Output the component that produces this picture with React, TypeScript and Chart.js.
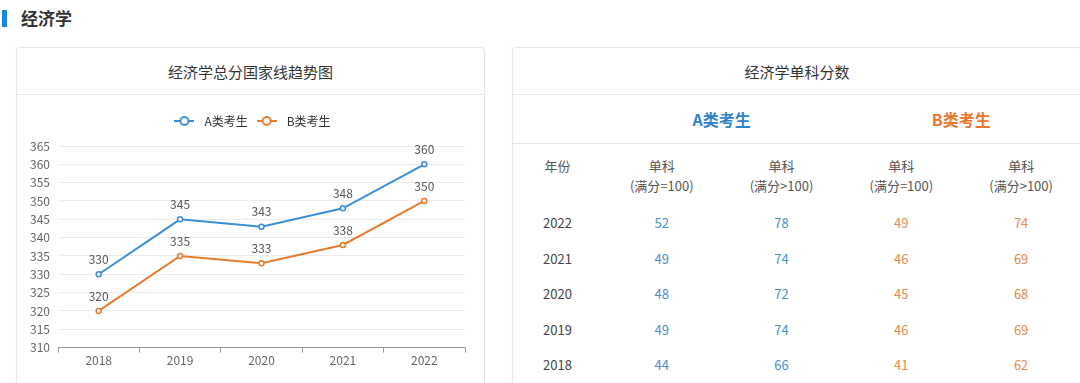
import React, { useEffect, useRef } from 'react';
import { Chart, registerables } from 'chart.js';

Chart.register(...registerables);

// ---- data ----
const years = ['2018', '2019', '2020', '2021', '2022'];
const seriesA = [330, 345, 343, 348, 360];
const seriesB = [320, 335, 333, 338, 350];
const seriesNames = ['A类考生', 'B类考生'];
const yMin = 310;
const yMax = 365;
const yStep = 5;

const tableYears = ['2022', '2021', '2020', '2019', '2018'];
const aEq100 = [52, 49, 48, 49, 44];
const aGt100 = [78, 74, 72, 74, 66];
const bEq100 = [49, 46, 45, 46, 41];
const bGt100 = [74, 69, 68, 69, 62];
const colHead = '单科';
const colSubs = ['(满分=100)', '(满分>100)', '(满分=100)', '(满分>100)'];

// ---- styles ----
const FONT = '"Microsoft YaHei", "Noto Sans CJK SC", "Noto Sans", sans-serif';
const BLUE = '#3a8fd6';
const ORANGE = '#e67c2e';
const BLUE_TXT = '#2f83c9';
const ORANGE_TXT = '#e8772d';
const BLUE_NUM = '#4a8fcc';
const ORANGE_NUM = '#e38a52';
const BORDER = '#e6e6e6';

function makeIcon(color: string): HTMLCanvasElement {
  const c = document.createElement('canvas');
  c.width = 20;
  c.height = 14;
  const g = c.getContext('2d')!;
  g.strokeStyle = color;
  g.lineWidth = 2;
  g.beginPath();
  g.moveTo(0, 7);
  g.lineTo(20, 7);
  g.stroke();
  g.beginPath();
  g.arc(10, 7, 4, 0, Math.PI * 2);
  g.fillStyle = '#fff';
  g.fill();
  g.stroke();
  return c;
}

const legendSpacer = {
  id: 'legendSpacer',
  beforeInit(chart: any) {
    const legend = chart.legend;
    if (legend && !legend._spacerPatched) {
      const orig = legend.fit;
      legend.fit = function () {
        orig.call(this);
        this.height += 9;
      };
      legend._spacerPatched = true;
    }
  },
};

const pointLabels = {
  id: 'pointLabels',
  afterDatasetsDraw(chart: any) {
    const ctx = chart.ctx;
    ctx.save();
    ctx.font = '12px ' + FONT;
    ctx.fillStyle = '#555';
    ctx.textAlign = 'center';
    ctx.textBaseline = 'middle';
    chart.data.datasets.forEach((ds: any, i: number) => {
      const meta = chart.getDatasetMeta(i);
      meta.data.forEach((el: any, j: number) => {
        ctx.fillText(String(ds.data[j]), el.x, el.y - 15);
      });
    });
    ctx.restore();
  },
};

function LineChart() {
  const ref = useRef<HTMLCanvasElement>(null);
  useEffect(() => {
    if (!ref.current) return;
    Chart.defaults.font.family = FONT;
    const icons = [makeIcon(BLUE), makeIcon(ORANGE)];
    const chart = new Chart(ref.current, {
      type: 'line',
      data: {
        labels: years,
        datasets: [
          {
            label: seriesNames[0],
            data: seriesA,
            borderColor: BLUE,
            backgroundColor: BLUE,
            borderWidth: 2,
            pointRadius: 2.5,
            pointBorderWidth: 1.5,
            pointBackgroundColor: '#fff',
            pointBorderColor: BLUE,
            tension: 0,
          },
          {
            label: seriesNames[1],
            data: seriesB,
            borderColor: ORANGE,
            backgroundColor: ORANGE,
            borderWidth: 2,
            pointRadius: 2.5,
            pointBorderWidth: 1.5,
            pointBackgroundColor: '#fff',
            pointBorderColor: ORANGE,
            tension: 0,
          },
        ],
      },
      options: {
        responsive: false,
        animation: false,
        layout: { padding: { top: 15, right: 0, bottom: 16, left: 0 } },
        plugins: {
          tooltip: { enabled: false },
          legend: {
            display: true,
            position: 'top',
            labels: {
              usePointStyle: true,
              pointStyleWidth: 28,
              padding: 5,
              color: '#333',
              font: { size: 12, family: FONT },
              generateLabels(ch: any) {
                const items = (Chart.defaults.plugins.legend.labels as any).generateLabels(ch);
                return items.map((it: any, i: number) => ({ ...it, pointStyle: icons[i] }));
              },
            },
          },
        },
        scales: {
          x: {
            offset: true,
            grid: {
              offset: true,
              drawOnChartArea: false,
              drawTicks: true,
              tickLength: 5,
              color: '#999',
            },
            border: { display: true, color: '#999', width: 1 },
            ticks: { color: '#666', font: { size: 12 }, padding: 1 },
          },
          y: {
            min: yMin,
            max: yMax,
            grid: { color: '#ebebeb', drawTicks: false },
            border: { display: false },
            ticks: { stepSize: yStep, color: '#666', font: { size: 12 }, padding: 8 },
            afterFit(scale: any) {
              scale.width = 42;
            },
          },
          ySpacer: {
            type: 'linear',
            position: 'right',
            display: true,
            grid: { display: false, drawTicks: false },
            border: { display: false },
            ticks: { display: false },
            afterFit(scale: any) {
              scale.width = 20;
            },
          },
        },
      } as any,
      plugins: [legendSpacer, pointLabels],
    });
    return () => chart.destroy();
  }, []);
  return <canvas ref={ref} width={469} height={290} style={{ display: 'block' }} />;
}

const cardStyle: React.CSSProperties = {
  position: 'absolute',
  top: 47,
  height: 345,
  border: `1px solid ${BORDER}`,
  borderRadius: 4,
  boxSizing: 'border-box',
  background: '#fff',
  boxShadow: '0 0 3px rgba(0,0,0,0.04)',
};

const titleStyle: React.CSSProperties = {
  height: 47,
  boxSizing: 'border-box',
  borderBottom: `1px solid ${BORDER}`,
  display: 'flex',
  alignItems: 'center',
  justifyContent: 'center',
  fontSize: 15,
  color: '#333',
};

const YEAR_W = 89;
const COL_W = 120;

export default function App() {
  const numCols = [aEq100, aGt100, bEq100, bGt100];
  const numColors = [BLUE_NUM, BLUE_NUM, ORANGE_NUM, ORANGE_NUM];
  return (
    <div
      style={{
        position: 'absolute',
        left: 0,
        top: 0,
        width: 1080,
        height: 383,
        overflow: 'hidden',
        background: '#fff',
        fontFamily: FONT,
      }}
    >
      {/* heading */}
      <div style={{ position: 'absolute', left: 2, top: 10, width: 5, height: 17, background: '#1787e0' }} />
      <div
        style={{
          position: 'absolute',
          left: 21,
          top: 6,
          height: 24,
          lineHeight: '24px',
          fontSize: 17,
          fontWeight: 700,
          color: '#333',
        }}
      >
        经济学
      </div>

      {/* left card */}
      <div style={{ ...cardStyle, left: 16, width: 469 }}>
        <div style={titleStyle}>经济学总分国家线趋势图</div>
      </div>
      <div style={{ position: 'absolute', left: 16, top: 95 }}>
        <LineChart />
      </div>

      {/* right card */}
      <div style={{ ...cardStyle, left: 512, width: 570 }}>
        <div style={titleStyle}>经济学单科分数</div>
        <div
          style={{
            height: 49,
            boxSizing: 'border-box',
            borderBottom: `1px solid ${BORDER}`,
            display: 'flex',
            alignItems: 'center',
            fontSize: 16,
            fontWeight: 700,
          }}
        >
          <div style={{ width: YEAR_W }} />
          <div style={{ width: COL_W * 2, textAlign: 'center', color: BLUE_TXT }}>{seriesNames[0]}</div>
          <div style={{ width: COL_W * 2, textAlign: 'center', color: ORANGE_TXT }}>{seriesNames[1]}</div>
        </div>
        <div style={{ display: 'flex', height: 61, paddingTop: 12, boxSizing: 'border-box', fontSize: 13, lineHeight: '20px', color: '#555' }}>
          <div style={{ width: YEAR_W, textAlign: 'center' }}>年份</div>
          {colSubs.map((s, i) => (
            <div key={i} style={{ width: COL_W, textAlign: 'center' }}>
              <div>{colHead}</div>
              <div>{s}</div>
            </div>
          ))}
        </div>
        {tableYears.map((y, r) => (
          <div key={y} style={{ display: 'flex', height: 35.5, alignItems: 'center', fontSize: 13 }}>
            <div style={{ width: YEAR_W, textAlign: 'center', color: '#444' }}>{y}</div>
            {numCols.map((col, c) => (
              <div key={c} style={{ width: COL_W, textAlign: 'center', color: numColors[c] }}>
                {col[r]}
              </div>
            ))}
          </div>
        ))}
      </div>
    </div>
  );
}
